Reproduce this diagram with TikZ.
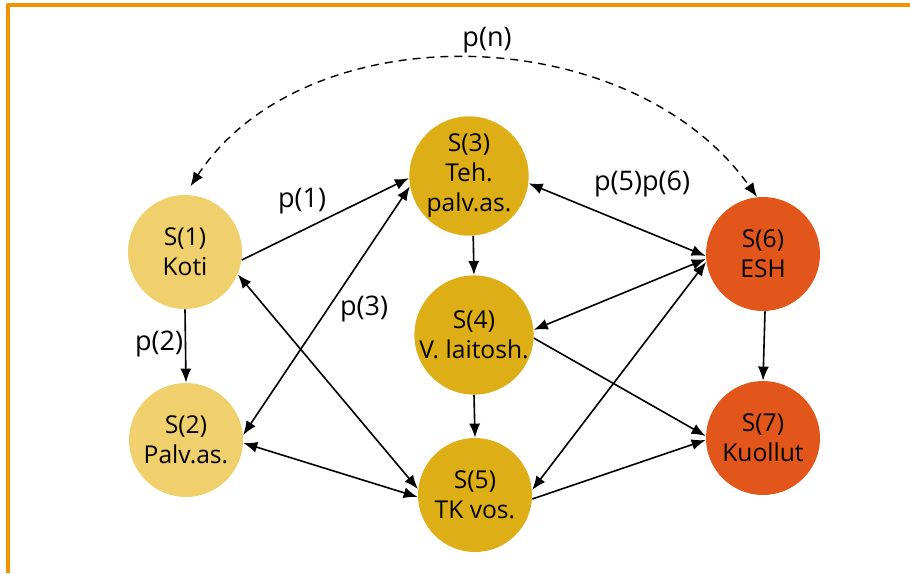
\documentclass[tikz,border=0pt]{standalone}
\usepackage{fontspec}
\setmainfont{Open Sans}
\usetikzlibrary{arrows.meta}
\definecolor{lightgold}{HTML}{F0D06C}
\definecolor{darkgold}{HTML}{DEAE17}
\definecolor{redorange}{HTML}{E2561B}
\definecolor{frameorange}{HTML}{F39200}
\newcommand \tipsize {length=7pt,width=5.5pt}

\begin{document}
\begin{tikzpicture}[x=0.5pt, y=-0.5pt, line join=round,
  state/.style={circle, fill=#1, minimum size=57pt, inner sep=0pt, align=center,
                font=\fontsize{12.3}{15}\selectfont},
  arr/.style={-{Latex[\tipsize]}, line width=0.8pt},
  darr/.style={{Latex[\tipsize]}-{Latex[\tipsize]}, line width=0.8pt},
  plabel/.style={font=\fontsize{13.5}{15}\selectfont}]
\useasboundingbox (0,0) rectangle (910,573);
\draw[frameorange, line width=1.6pt] (8,573) -- (8,5) -- (910,5);
% states
\node[state=lightgold] (S1) at (185,252) {S(1)\\Koti};
\node[state=lightgold] (S2) at (186,440) {S(2)\\Palv.as.};
\node[state=darkgold]  (S3) at (469,176) {S(3)\\Teh.\\palv.as.};
\node[state=darkgold]  (S4) at (474,335) {S(4)\\V. laitosh.};
\node[state=darkgold]  (S5) at (475,495) {S(5)\\TK vos.};
\node[state=redorange] (S6) at (763,254) {S(6)\\ESH};
\node[state=redorange] (S7) at (763,438) {S(7)\\Kuollut};
% transitions
\draw[arr]  (S1.-8)  -- (S3.182);
\draw[arr]  (S1.-90) -- (S2.90);
\draw[darr] (S2.5)   -- (S3.190);
\draw[darr] (S1.-23) -- (S5.174);
\draw[darr] (S2.-3)  -- (S5.182);
\draw[arr]  (S3.-86) -- (S4.90);
\draw[arr]  (S4.-90) -- (S5.90);
\draw[darr] (S3.-7)  -- (S6.182);
\draw[darr] (S4.5)   -- (S6.185);
\draw[darr] (S5.5)   -- (S6.188);
\draw[arr]  (S4.-3)  -- (S7.178);
\draw[arr]  (S5.-4)  -- (S7.182);
\draw[arr]  (S6.-88) -- (S7.90);
\draw[darr, line width=0.7pt, dash pattern=on 4pt off 3pt, shorten <=5pt]
  (S1.north) .. controls (305,12) and (630,18) .. (S6.96);
% probabilities
\node[plabel] (p1)  at (302,201) {p(1)};
\node[plabel] (p2)  at (159,344) {p(2)};
\node[plabel] (p3)  at (364,309) {p(3)};
\node[plabel] (p56) at (642,184) {p(5)p(6)};
\node[plabel] (pn)  at (487,40)  {p(n)};
\end{tikzpicture}
\end{document}
